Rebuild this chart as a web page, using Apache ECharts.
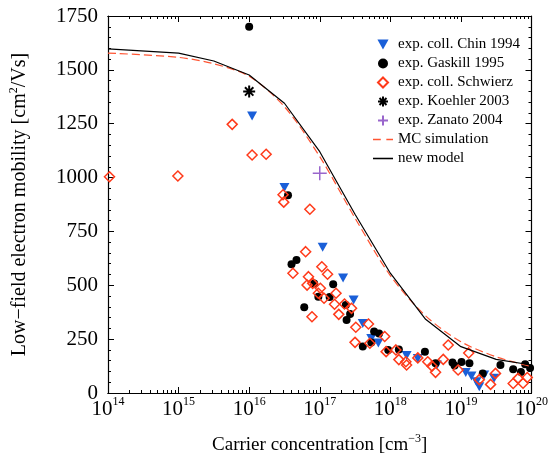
<!DOCTYPE html>
<html>
<head>
<meta charset="utf-8">
<title>Low-field electron mobility</title>
<script src="https://cdn.jsdelivr.net/npm/echarts@6/dist/echarts.min.js"></script>
<style>
html,body{margin:0;padding:0;background:#fff;}
#main{width:551px;height:464px;}
</style>
</head>
<body>
<div id="main"></div>
<script>
// axis ticks
var xMajorTicks=[1e14,1e15,1e16,1e17,1e18,1e19,1e20];
var yTicks=[0,250,500,750,1000,1250,1500,1750];

// exp. coll. Chin 1994
var chinData=[[1.1e16,1286],[3.16e16,954],[1.1e17,676],[2.14e17,534],[3.02e17,432],[4.07e17,323],
	[5.37e17,253],[6.76e17,232],[1.7e18,174],[2.45e18,160],[4.57e18,130],[1.17e19,95],[1.41e19,79],
	[1.66e19,52],[1.82e19,29],[2.14e19,84],[2.95e19,68]];
// exp. Gaskill 1995
var gaskillData=[[1.0e16,1700],[3.55e16,918],[3.98e16,598],[4.68e16,617],[6.03e16,398],[8.32e16,508],
	[9.55e16,447],[1.55e17,505],[1.38e17,446],[2.34e17,408],[2.4e17,339],[2.69e17,367],[4.07e17,216],
	[5.37e17,234],[5.89e17,285],[6.92e17,276],[9.33e17,200],[1.32e18,202],[3.09e18,192],[4.37e18,138],
	[7.59e18,141],[8.13e18,128],[1.02e19,144],[1.32e19,138],[2.04e19,90],[3.63e19,130],[5.5e19,110],
	[7.08e19,97],[8.13e19,134],[9.55e19,116]];
// exp. coll. Schwierz
var schwierzData=[[1.05e14,1004],[9.77e14,1007],[5.75e15,1247],[1.1e16,1105],[1.74e16,1108],[3.02e16,920],
	[3.09e16,886],[7.24e16,853],[4.17e16,556],[6.31e16,656],[6.92e16,540],[6.61e16,501],[7.94e16,509],
	[7.76e16,354],[9.55e16,463],[1.02e17,486],[1.07e17,586],[1.15e17,440],[1.29e17,551],[1.62e17,412],
	[1.7e17,463],[1.86e17,365],[2.24e17,413],[2.82e17,393],[3.24e17,305],[3.16e17,235],[4.9e17,320],
	[5.13e17,231],[8.32e17,262],[8.71e17,192],[1.2e18,200],[1.32e18,155],[1.7e18,130],[1.66e18,145],
	[2.45e18,163],[3.39e18,145],[3.89e18,125],[4.37e18,96],[5.62e18,156],[6.61e18,223],[9.12e18,107],
	[1.29e19,186],[1.82e19,62],[2.63e19,40],[3.09e19,91],[5.5e19,44],[6.46e19,68],[7.59e19,45],[8.71e19,72]];
// exp. Koehler 2003
var koehlerData=[[1.0e16,1400]];
// exp. Zanato 2004
var zanatoData=[[1.0e17,1020]];
// MC simulation
var mcConc=[1e14,1e15,3.16e15,1e16,3.16e16,1e17,3.16e17,1e18,3.16e18,1e19,3.16e19,1e20];
var mcMobility=[1578,1558,1528,1470,1329,1097,812,545,358,238,168,122];
// new model
var modelConc=[1e14,1e15,3.16e15,1e16,3.16e16,1e17,3.16e17,1e18,3.16e18,1e19,3.16e19,1e20];
var modelMobility=[1597,1578,1541,1476,1345,1120,830,556,342,215,156,130];

var font="'Liberation Serif','DejaVu Serif',serif";

// 对数轴的小刻度 2..9
var xMinorTicks=[];
for(var d=14;d<20;d++){
	for(var k=2;k<10;k++){
		xMinorTicks.push(k*Math.pow(10,d));
	}
}

function pairs(xs,ys){
	var out=[];
	for(var i=0;i<xs.length;i++){
		out.push([xs[i],ys[i]]);
	}
	return out;
}

function logAxis(pos,ticks,len,showLabel){
	return {
		type:'log',logBase:10,min:1e14,max:1e20,position:pos,
		axisLine:{show:true,onZero:false,lineStyle:{color:'#000',width:1.2}},
		axisTick:{show:true,inside:true,length:len,customValues:ticks,lineStyle:{color:'#000',width:1}},
		axisLabel:{show:showLabel,customValues:ticks,margin:3,color:'#000',
			formatter:function(v){
				return '{base|10}{sup|'+Math.round(Math.log10(v))+'}';
			},
			rich:{
				base:{fontFamily:font,fontSize:21,lineHeight:26,color:'#000'},
				sup:{fontFamily:font,fontSize:12,lineHeight:26,verticalAlign:'top',color:'#000'}
			}
		},
		splitLine:{show:false},minorTick:{show:false}
	};
}

function valAxis(pos,showLabel){
	return {
		type:'value',min:0,max:1750,interval:250,position:pos,
		axisLine:{show:true,onZero:false,lineStyle:{color:'#000',width:1.2}},
		axisTick:{show:true,inside:true,length:6,lineStyle:{color:'#000'}},
		minorTick:{show:true,splitNumber:5,length:3,lineStyle:{color:'#000'}},
		axisLabel:{show:showLabel,margin:10,color:'#000',fontFamily:font,fontSize:21,
			customValues:yTicks,
			formatter:function(v){return String(v);}},
		splitLine:{show:false}
	};
}

var myChart=echarts.init(document.getElementById('main'));

var xBottom=logAxis('bottom',xMajorTicks,6,true);
xBottom.name='Carrier concentration [cm{sup|−3}]';
xBottom.nameLocation='middle';
xBottom.nameGap=40;
xBottom.nameTextStyle={fontFamily:font,fontSize:19,color:'#000',
	rich:{sup:{fontFamily:font,fontSize:12,lineHeight:24,verticalAlign:'top',color:'#000'}}};

var yLeft=valAxis('left',true);
yLeft.name='Low−field electron mobility [cm{sup|2}/Vs]';
yLeft.nameLocation='middle';
yLeft.nameGap=76;
yLeft.nameRotate=90;
yLeft.nameTextStyle={fontFamily:font,fontSize:20,color:'#000',
	rich:{sup:{fontFamily:font,fontSize:12,lineHeight:24,verticalAlign:'top',color:'#000'}}};

var option={
	animation:false,
	backgroundColor:'#fff',
	textStyle:{fontFamily:font},
	grid:{left:107,right:13,top:16,bottom:71},
	legend:{
		orient:'vertical',left:368,top:32,
		itemWidth:20,itemHeight:10,itemGap:4,
		textStyle:{fontFamily:font,fontSize:15,color:'#000',lineHeight:14},
		data:[
			{name:'exp. coll. Chin 1994'},
			{name:'exp. Gaskill 1995'},
			{name:'exp. coll. Schwierz',icon:'path://M5,0L10,5L5,10L0,5Z'},
			{name:'exp. Koehler 2003'},
			{name:'exp. Zanato 2004'},
			{name:'MC simulation',icon:'path://M0,0h7v1.4h-7Z M12,0h6v1.4h-6Z'},
			{name:'new model',icon:'path://M0,0h18v1.4h-18Z'}
		]
	},
	xAxis:[xBottom,logAxis('top',xMajorTicks,6,false),
		logAxis('bottom',xMinorTicks,3,false),logAxis('top',xMinorTicks,3,false)],
	yAxis:[yLeft,valAxis('right',false)],
	series:[
		{
			name:'exp. coll. Chin 1994',type:'scatter',data:chinData,
			symbol:'path://M0,0L10,0L5,9Z',symbolSize:[10,9],
			itemStyle:{color:'#1a5fd8',opacity:1}
		},
		{
			name:'exp. Gaskill 1995',type:'scatter',data:gaskillData,
			symbol:'circle',symbolSize:8,
			itemStyle:{color:'#000',opacity:1}
		},
		{
			name:'exp. coll. Schwierz',type:'scatter',data:schwierzData,
			symbol:'diamond',symbolSize:10,
			itemStyle:{color:'rgba(255,255,255,0)',borderColor:'#ff3a1a',borderWidth:1.5,opacity:1}
		},
		{
			name:'exp. Koehler 2003',type:'scatter',data:koehlerData,
			symbol:'path://M5,0L5,10M0,5L10,5M1.5,1.5L8.5,8.5M8.5,1.5L1.5,8.5',symbolSize:12,
			itemStyle:{color:'#000',borderColor:'#000',borderWidth:2,opacity:1}
		},
		{
			name:'exp. Zanato 2004',type:'scatter',data:zanatoData,
			symbol:'path://M5,0L5,10M0,5L10,5',symbolSize:14,
			itemStyle:{color:'#9966cc',borderColor:'#9966cc',borderWidth:1.5,opacity:1}
		},
		{
			name:'MC simulation',type:'line',data:pairs(mcConc,mcMobility),
			symbol:'none',showSymbol:false,smooth:0.3,
			lineStyle:{color:'#ff5533',width:1.2,type:[8,4]},
			itemStyle:{color:'#ff5533'}
		},
		{
			name:'new model',type:'line',data:pairs(modelConc,modelMobility),
			symbol:'none',showSymbol:false,
			lineStyle:{color:'#000',width:1.2},
			itemStyle:{color:'#000'}
		}
	]
};

myChart.setOption(option);
</script>
</body>
</html>
